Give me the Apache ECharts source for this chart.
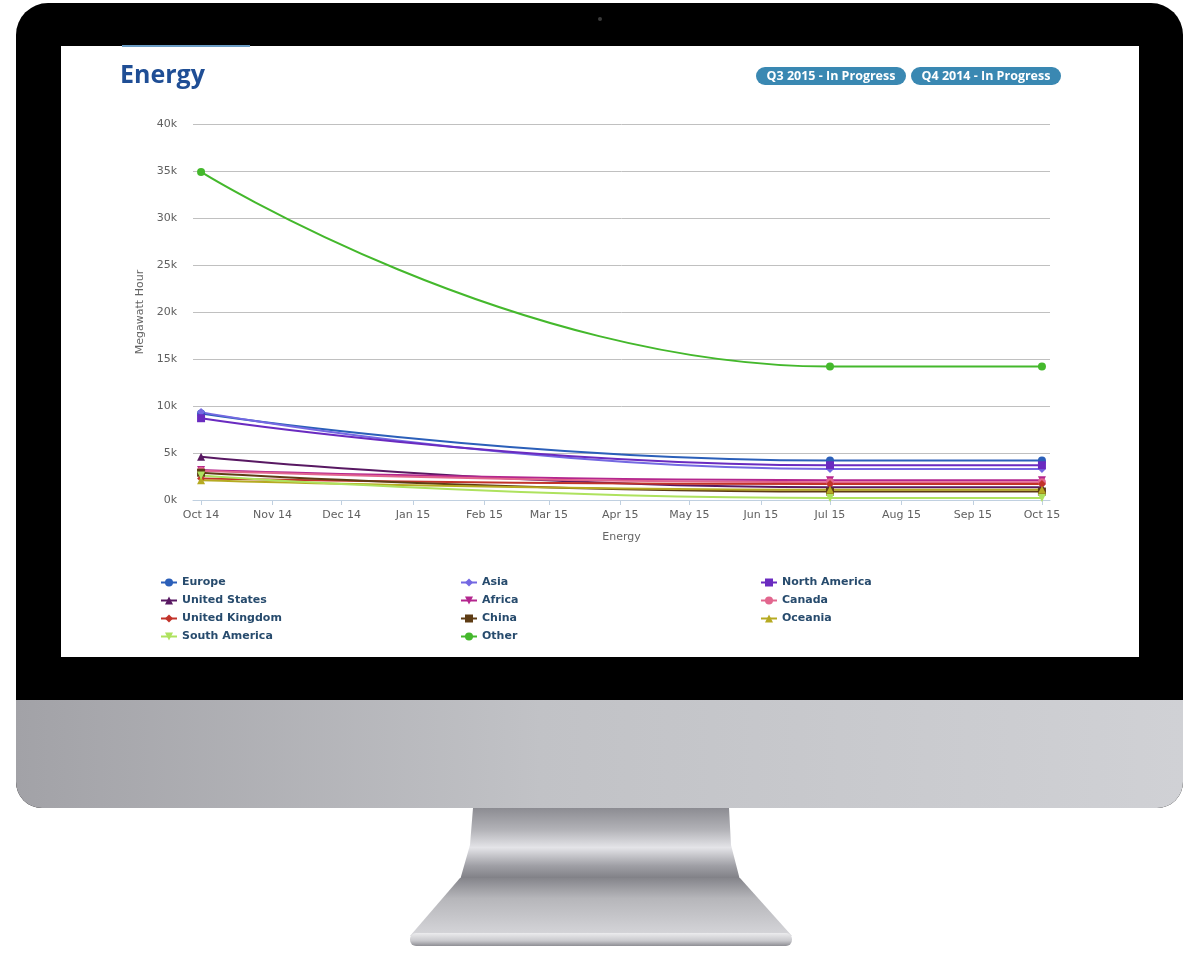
<!DOCTYPE html>
<html>
<head>
<meta charset="utf-8">
<script src="https://cdn.jsdelivr.net/npm/echarts@6/dist/echarts.min.js"></script>
<style>
html,body{margin:0;padding:0;background:#fff;}
#chart{width:1200px;height:956px;}
</style>
</head>
<body>
<div id="chart"></div>
<script>
// ---- data ----
const pointDates = ['2014-10-01', '2015-07-01', '2015-10-01'];
const seriesNames = ['Europe', 'Asia', 'North America', 'United States', 'Africa', 'Canada',
  'United Kingdom', 'China', 'Oceania', 'South America', 'Other'];
const europe        = [9200, 4200, 4200];
const asia          = [9350, 3300, 3300];
const northAmerica  = [8700, 3700, 3700];
const unitedStates  = [4600, 1350, 1350];
const africa        = [3200, 2100, 2100];
const canada        = [3100, 1900, 1900];
const unitedKingdom = [2300, 1700, 1700];
const china         = [2900, 900, 900];
const oceania       = [2100, 1100, 1100];
const southAmerica  = [2600, 200, 200];
const other         = [34900, 14200, 14200];
const seriesValues = [europe, asia, northAmerica, unitedStates, africa, canada,
  unitedKingdom, china, oceania, southAmerica, other];
const xTickDates = ['2014-10-01', '2014-11-01', '2014-12-01', '2015-01-01', '2015-02-01', '2015-03-01',
  '2015-04-01', '2015-05-01', '2015-06-01', '2015-07-01', '2015-08-01', '2015-09-01', '2015-10-01'];
const xTickLabels = ['Oct 14', 'Nov 14', 'Dec 14', 'Jan 15', 'Feb 15', 'Mar 15', 'Apr 15', 'May 15',
  'Jun 15', 'Jul 15', 'Aug 15', 'Sep 15', 'Oct 15'];
const yTicks = [0, 5000, 10000, 15000, 20000, 25000, 30000, 35000, 40000];
const badges = ['Q3 2015 - In Progress', 'Q4 2014 - In Progress'];

// ---- styles ----
const colors = ['#2b5fb9', '#7468e2', '#6a2bc0', '#581862', '#b4268e', '#e2668e',
  '#c2332a', '#5e3c14', '#b6aa22', '#aee25e', '#44b82c'];
const triDown = 'path://M0,0 L10,0 L5,9 Z';
const symbols = ['circle', 'diamond', 'rect', 'triangle', triDown, 'circle',
  'diamond', 'rect', 'triangle', triDown, 'circle'];

function parseDate(s) { const p = s.split('-').map(Number); return new Date(p[0], p[1] - 1, p[2]).getTime(); }
const tickTimes = xTickDates.map(parseDate);
function labelFor(v) {
  let best = -1, bd = Infinity;
  tickTimes.forEach((t, i) => { const d = Math.abs(t - v); if (d < bd) { bd = d; best = i; } });
  return bd < 2 * 86400000 ? xTickLabels[best] : '';
}
const DAY = 86400000;
const xMin = tickTimes[0] - 3.5 * DAY;
const xMax = tickTimes[tickTimes.length - 1] + 3.5 * DAY;

const series = seriesNames.map((name, i) => ({
  name: name,
  type: 'line',
  smooth: 0.5,
  smoothMonotone: 'x',
  symbol: symbols[i],
  symbolSize: 8,
  showAllSymbol: true,
  lineStyle: { width: 2, color: colors[i] },
  itemStyle: { color: colors[i] },
  emphasis: { disabled: true },
  data: pointDates.map((d, j) => [parseDate(d), seriesValues[i][j]])
}));

const legendFont = { fontFamily: 'DejaVu Sans', fontWeight: 'bold', fontSize: 11, color: '#274b6d' };
function legendCol(left, names) {
  return {
    orient: 'vertical', left: left, top: 577, itemWidth: 16, itemHeight: 10, itemGap: 7,
    padding: 0, textStyle: legendFont, data: names, selectedMode: false
  };
}

const chin = new echarts.graphic.LinearGradient(0, 0, 1, 0, [
  { offset: 0, color: '#a2a2a7' }, { offset: 0.45, color: '#c1c2c6' }, { offset: 1, color: '#d0d1d5' }]);
const neckGrad = new echarts.graphic.LinearGradient(0, 0, 0, 1, [
  { offset: 0, color: '#8c8c92' }, { offset: 0.3, color: '#b2b2b7' }, { offset: 0.55, color: '#e4e4e8' },
  { offset: 0.8, color: '#a0a0a6' }, { offset: 1, color: '#7c7c82' }]);
const baseGrad = new echarts.graphic.LinearGradient(0, 0, 0, 1, [
  { offset: 0, color: '#85858b' }, { offset: 0.35, color: '#b6b6ba' }, { offset: 1, color: '#d6d6da' }]);
const plateGrad = new echarts.graphic.LinearGradient(0, 0, 0, 1, [
  { offset: 0, color: '#ececee' }, { offset: 0.6, color: '#c8c8cc' }, { offset: 1, color: '#8e8e94' }]);

const graphics = [
  { type: 'rect', z: -10, shape: { x: 16, y: 3, width: 1167, height: 805, r: [32, 32, 26, 26] }, style: { fill: '#000' } },
  { type: 'rect', z: -9, shape: { x: 16, y: 700, width: 1167, height: 108, r: [0, 0, 26, 26] }, style: { fill: chin } },
  { type: 'rect', z: -9, shape: { x: 61, y: 46, width: 1078, height: 611 }, style: { fill: '#fff' } },
  { type: 'rect', z: -8, shape: { x: 122, y: 45, width: 128, height: 2 }, style: { fill: '#6a9cc4' } },
  { type: 'circle', z: -8, shape: { cx: 600, cy: 19, r: 2 }, style: { fill: '#3a3a3a' } },
  { type: 'polygon', z: -9, shape: { points: [[473, 808], [729, 808], [731, 845], [740, 880], [460, 880], [470, 845]] }, style: { fill: neckGrad } },
  { type: 'polygon', z: -9, shape: { points: [[460, 878], [740, 878], [792, 936], [410, 936]] }, style: { fill: baseGrad } },
  { type: 'rect', z: -8, shape: { x: 410, y: 933, width: 382, height: 13, r: 6 }, style: { fill: plateGrad } },
  { type: 'text', z: 5, x: 120, y: 63, style: { text: 'Energy', font: 'bold 25px "Open Sans"', fill: '#1f4e95' } }
];
const badgeX = [756, 911];
badges.forEach((b, i) => {
  graphics.push({ type: 'rect', z: 5, shape: { x: badgeX[i], y: 67, width: 150, height: 18, r: 9 }, style: { fill: '#3a88b2' } });
  graphics.push({ type: 'text', z: 6, x: badgeX[i] + 75, y: 76,
    style: { text: b, font: 'bold 12.5px "Open Sans"', fill: '#fff', align: 'center', verticalAlign: 'middle' } });
});

const option = {
  animation: false,
  backgroundColor: '#fff',
  color: colors,
  graphic: graphics,
  legend: [
    legendCol(160, ['Europe', 'United States', 'United Kingdom', 'South America']),
    legendCol(460, ['Asia', 'Africa', 'China', 'Other']),
    legendCol(760, ['North America', 'Canada', 'Oceania'])
  ],
  grid: { left: 193, right: 150, top: 124, bottom: 456, containLabel: false },
  xAxis: {
    type: 'time',
    min: xMin, max: xMax,
    minInterval: 28 * DAY, maxInterval: 31 * DAY,
    name: 'Energy', nameLocation: 'middle', nameGap: 32,
    nameTextStyle: { fontFamily: 'DejaVu Sans', fontSize: 11, color: '#666' },
    axisLine: { lineStyle: { color: '#c0d0e0', width: 1 } },
    axisTick: { show: true, length: 5, lineStyle: { color: '#c0d0e0' } },
    axisLabel: {
      margin: 10, hideOverlap: false, showMinLabel: false, showMaxLabel: false,
      fontFamily: 'DejaVu Sans', fontSize: 11, color: '#606060', fontWeight: 'normal',
      formatter: (v) => labelFor(v)
    },
    splitLine: { show: false }
  },
  yAxis: {
    type: 'value', min: 0, max: 40000, interval: 5000,
    name: 'Megawatt Hour', nameLocation: 'middle', nameGap: 42, nameRotate: 90,
    nameTextStyle: { fontFamily: 'DejaVu Sans', fontSize: 11, color: '#666' },
    axisLine: { show: false }, axisTick: { show: false },
    axisLabel: { margin: 16, fontFamily: 'DejaVu Sans', fontSize: 11, color: '#606060',
      formatter: (v) => (yTicks.indexOf(v) >= 0 ? (v / 1000) + 'k' : '') },
    splitLine: { lineStyle: { color: '#c0c0c0', width: 1 } }
  },
  series: series
};
const chart = echarts.init(document.getElementById('chart'), null, { renderer: 'canvas' });
chart.setOption(option);
</script>
</body>
</html>
